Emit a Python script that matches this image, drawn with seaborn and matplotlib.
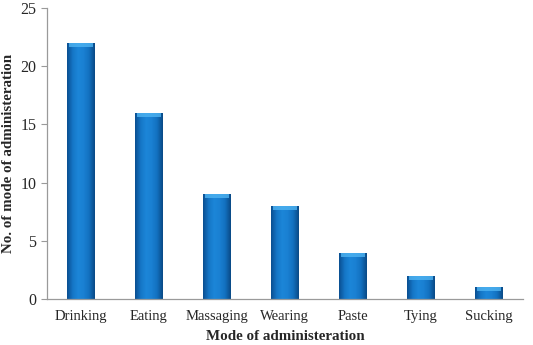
import numpy as np
import pandas as pd
import seaborn as sns
import matplotlib.pyplot as plt
from matplotlib.colors import LinearSegmentedColormap

# data
modes = ["Drinking", "Eating", "Massaging", "Wearing", "Paste", "Tying", "Sucking"]
counts = [22, 16, 9, 8, 4, 2, 1]

df = pd.DataFrame({"mode": modes, "count": counts})

sns.set_style("white")
plt.rcParams["font.family"] = ["Liberation Serif", "DejaVu Serif"]

fig = plt.figure(figsize=(5.33, 3.45), dpi=100)
ax = fig.add_axes([0.088, 0.133, 0.893, 0.844])

sns.barplot(data=df, x="mode", y="count", color="#1a7fd0", width=0.41, ax=ax,
            edgecolor="none")

# cylinder-like gradient on each bar
cmap = LinearSegmentedColormap.from_list(
    "cyl", ["#0a4f92", "#1576c6", "#1c86d8", "#1a80d2", "#1270bf", "#0a4a86"])
grad = np.linspace(0, 1, 64).reshape(1, -1)
for p in ax.patches:
    x0, y0 = p.get_x(), p.get_y()
    w, h = p.get_width(), p.get_height()
    im = ax.imshow(grad, cmap=cmap, aspect="auto",
                   extent=[x0, x0 + w, y0, y0 + h], zorder=p.get_zorder() + 0.1)
    im.set_clip_path(p)
    # light cap at top
    cap = min(0.35, h * 0.3)
    ax.fill_between([x0 + w * 0.08, x0 + w * 0.92], y0 + h - cap, y0 + h,
                    color="#4fb4f2", alpha=0.8, lw=0, zorder=p.get_zorder() + 0.2)

ax.set_xlim(-0.5, len(modes) - 0.5)
ax.set_ylim(0, 25)
ax.set_yticks(range(0, 26, 5))

# x ticks at category boundaries
ax.set_xticks(np.arange(len(modes)))
ax.set_xticklabels(modes)
ax.tick_params(axis="x", length=0, labelsize=10.5, pad=8)
ax.set_xticks(np.arange(-0.5, len(modes) + 0.5, 1), minor=True)
ax.tick_params(axis="x", which="minor", length=5, color="#9a9a9a", direction="out")
ax.tick_params(axis="y", length=4, color="#9a9a9a", labelsize=11.5, direction="out", left=True)

for side in ["top", "right"]:
    ax.spines[side].set_visible(False)
for side in ["left", "bottom"]:
    ax.spines[side].set_color("#9a9a9a")
    ax.spines[side].set_linewidth(0.9)

ax.set_xlabel("Mode of administeration", fontsize=10.8, fontweight="bold", labelpad=5)
ax.set_ylabel("No. of mode of administeration", fontsize=10.8, fontweight="bold", labelpad=4)

fig.savefig("out.png", dpi=100)
